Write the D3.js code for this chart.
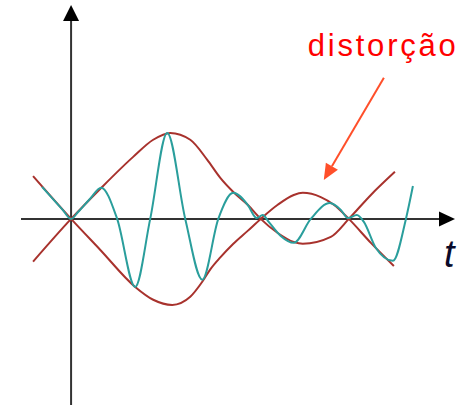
<!DOCTYPE html>
<html lang="pt">
<head>
<meta charset="UTF-8">
<title>distorção</title>
<script src="https://d3js.org/d3.v7.min.js"></script>
<style>
  body { margin: 0; background: #fff; font-family: 'Liberation Sans', Arial, sans-serif; }
  .axis { stroke: #333; stroke-width: 2; fill: none; }
  .env { fill: none; stroke: #a8322d; stroke-width: 2; }
  .sig { fill: none; stroke: #2a9e9c; stroke-width: 2; }
</style>
</head>
<body>
<script>
// upper envelope (t, amplitude)
const upperT = [-1.14, 0, 0.87, 1.86, 2.46, 2.97, 3.57, 4.08, 4.47, 4.86, 5.29, 5.68, 6.19, 6.67, 6.94, 7.78, 8.32, 8.98, 9.70];
const upperA = [-1.00, 0, 0.70, 1.45, 1.85, 2.01, 1.85, 1.38, 0.96, 0.63, 0.33, 0, -0.33, -0.54, -0.58, -0.42, 0, 0.56, 1.10];

// lower envelope
const lowerT = [-1.14, 0, 0.87, 1.92, 2.46, 3.03, 3.57, 3.93, 4.17, 4.47, 4.86, 5.29, 5.68, 6.19, 6.67, 6.94, 7.48, 7.87, 8.32, 8.98, 9.67];
const lowerA = [1.00, 0, -0.72, -1.59, -1.89, -2.01, -1.82, -1.47, -1.18, -0.90, -0.58, -0.28, 0, 0.33, 0.56, 0.61, 0.51, 0.33, 0, -0.56, -1.10];

// distorted signal
const sigT = [-0.87, -0.27, 0, 0.21, 0.57, 0.90, 1.38, 1.92, 2.37, 2.88, 3.42, 3.93, 4.41, 4.86, 5.29, 5.56, 5.74, 5.92, 6.28, 6.67, 7.18, 7.75, 8.08, 8.29, 8.56, 8.77, 9.13, 9.64, 10.03, 10.24];
const sigA = [0.75, 0.23, 0, 0.16, 0.47, 0.73, 0, -1.59, 0, 2.01, 0, -1.42, 0, 0.61, 0.33, 0.02, 0.09, -0.07, -0.40, -0.56, 0, 0.37, 0.21, 0.02, 0.09, -0.07, -0.68, -0.98, 0, 0.77];

const labelText = "distorção";
const labelPos = [7.09, 3.81];
const arrowFrom = [9.37, 3.30];
const arrowTo = [7.57, 0.91];
const axisLabel = "t";
const axisLabelPos = [11.17, -1.12];

const width = 458, height = 405;
const x = d3.scaleLinear().domain([-1.5, 11.5]).range([21, 455]);
const y = d3.scaleLinear().domain([-4.35, 5]).range([405, 5]);

const svg = d3.select('body').append('svg')
    .attr('width', width)
    .attr('height', height);

// axes
const xEnd = x.range()[1], yTop = y.range()[1];
const x0 = x(0), y0 = y(0);
svg.append('line').attr('class', 'axis')
    .attr('x1', x.range()[0]).attr('y1', y0)
    .attr('x2', xEnd - 14).attr('y2', y0);
svg.append('path')
    .attr('d', `M${xEnd},${y0} L${xEnd - 16},${y0 - 7.5} L${xEnd - 16},${y0 + 7.5} Z`)
    .attr('fill', '#000');
svg.append('line').attr('class', 'axis')
    .attr('x1', x0).attr('y1', y.range()[0])
    .attr('x2', x0).attr('y2', yTop + 14);
svg.append('path')
    .attr('d', `M${x0},${yTop} L${x0 - 8},${yTop + 16} L${x0 + 8},${yTop + 16} Z`)
    .attr('fill', '#000');

const line = d3.line()
    .x(d => x(d[0]))
    .y(d => y(d[1]))
    .curve(d3.curveMonotoneX);

svg.append('path').attr('class', 'env').attr('d', line(d3.zip(upperT, upperA)));
svg.append('path').attr('class', 'env').attr('d', line(d3.zip(lowerT, lowerA)));
svg.append('path').attr('class', 'sig').attr('d', line(d3.zip(sigT, sigA)));

// annotation
svg.append('text')
    .attr('x', x(labelPos[0]))
    .attr('y', y(labelPos[1]))
    .attr('fill', '#ff0000')
    .attr('textLength', 148)
    .attr('lengthAdjust', 'spacing')
    .style('font-size', '31px')
    .text(labelText);

const ax1 = x(arrowFrom[0]), ay1 = y(arrowFrom[1]);
const ax2 = x(arrowTo[0]), ay2 = y(arrowTo[1]);
const ang = Math.atan2(ay2 - ay1, ax2 - ax1);
const headLen = 16, headW = 7;
const bx = ax2 - headLen * Math.cos(ang), by = ay2 - headLen * Math.sin(ang);
svg.append('line')
    .attr('x1', ax1).attr('y1', ay1)
    .attr('x2', bx).attr('y2', by)
    .attr('stroke', '#ff4f2a').attr('stroke-width', 2);
svg.append('path')
    .attr('d', `M${ax2},${ay2} L${bx + headW * Math.sin(ang)},${by - headW * Math.cos(ang)} L${bx - headW * Math.sin(ang)},${by + headW * Math.cos(ang)} Z`)
    .attr('fill', '#ff4f2a');

svg.append('text')
    .attr('x', x(axisLabelPos[0]))
    .attr('y', y(axisLabelPos[1]))
    .attr('fill', '#0a0a2a')
    .style('font-size', '38px')
    .style('font-style', 'italic')
    .text(axisLabel);
</script>
</body>
</html>
